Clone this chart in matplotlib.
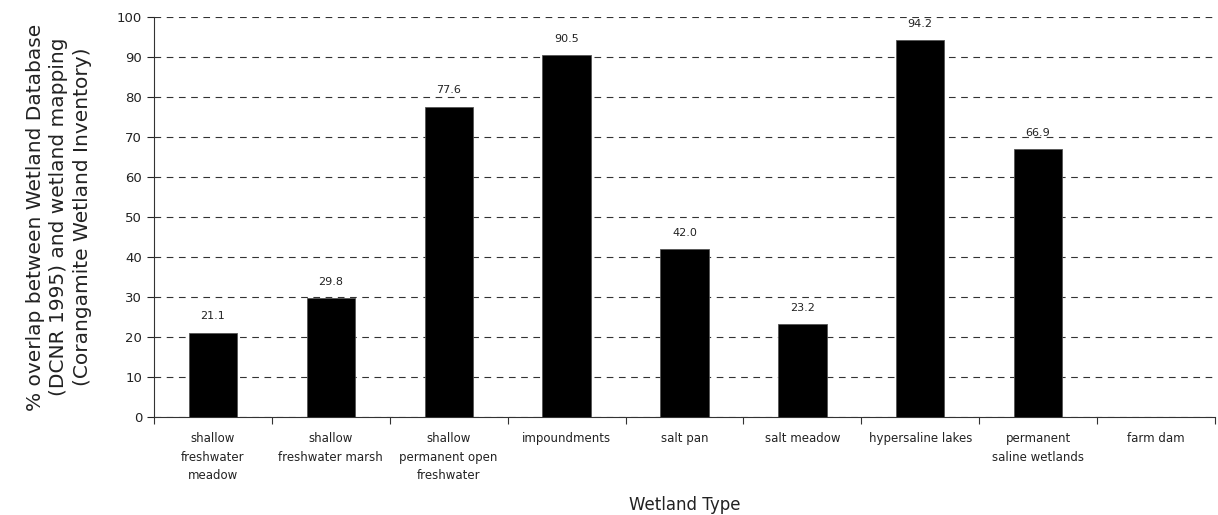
import matplotlib
matplotlib.use("Agg")
import matplotlib.pyplot as plt
import numpy as np

types = ["shallow\nfreshwater\nmeadow", "shallow\nfreshwater marsh",
         "shallow\npermanent open\nfreshwater", "impoundments", "salt pan",
         "salt meadow", "hypersaline lakes", "permanent\nsaline wetlands",
         "farm dam"]
overlap = [21.1, 29.8, 77.6, 90.5, 42.0, 23.2, 94.2, 66.9, 0.0]
shown = [True, True, True, True, True, True, True, True, False]

plt.rcParams["font.family"] = ["DejaVu Sans"]

fig = plt.figure(figsize=(12.18, 5.15), dpi=100)
ax = fig.add_axes([0.1264, 0.1903, 0.8711, 0.7767])

x = np.arange(len(types))
ax.bar(x, overlap, width=0.41, color="black", edgecolor="#555555", linewidth=0.6, zorder=3)
for xi, v, s in zip(x, overlap, shown):
    if s:
        ax.annotate(f"{v:.1f}", (xi, v), xytext=(0, 8), textcoords="offset points",
                    ha="center", va="bottom", fontsize=8, color="#222222")

ax.set_xlim(-0.5, len(types) - 0.5)
ax.set_ylim(0, 100)
ax.set_yticks(range(0, 101, 10))
ax.yaxis.grid(True, linestyle=(0, (6, 5)), color="#333333", linewidth=0.8)
ax.set_axisbelow(True)

# boundaries get the tick marks, centres get the category names
ax.set_xticks(np.arange(-0.5, len(types)), labels=[])
ax.set_xticks(x, labels=types, minor=True)
ax.tick_params(axis="x", which="major", length=5, direction="out", color="#333333")
ax.tick_params(axis="x", which="minor", length=0, pad=11, labelsize=8.5, colors="#222222")
ax.tick_params(axis="y", length=5, labelsize=9.5, colors="#222222")
for lab in ax.get_xticklabels(minor=True):
    lab.set_linespacing(1.55)

for side in ["top", "right"]:
    ax.spines[side].set_visible(False)
for side in ["left", "bottom"]:
    ax.spines[side].set_color("#333333")

ax.set_xlabel("Wetland Type", fontsize=12, color="#222222")
ax.xaxis.set_label_coords(0.5, -0.198)
ax.set_ylabel("% overlap between Wetland Database\n(DCNR 1995) and wetland mapping\n(Corangamite Wetland Inventory)",
              fontsize=14.5, color="#222222", labelpad=18, linespacing=1.3)

fig.savefig("out.png", dpi=100)
